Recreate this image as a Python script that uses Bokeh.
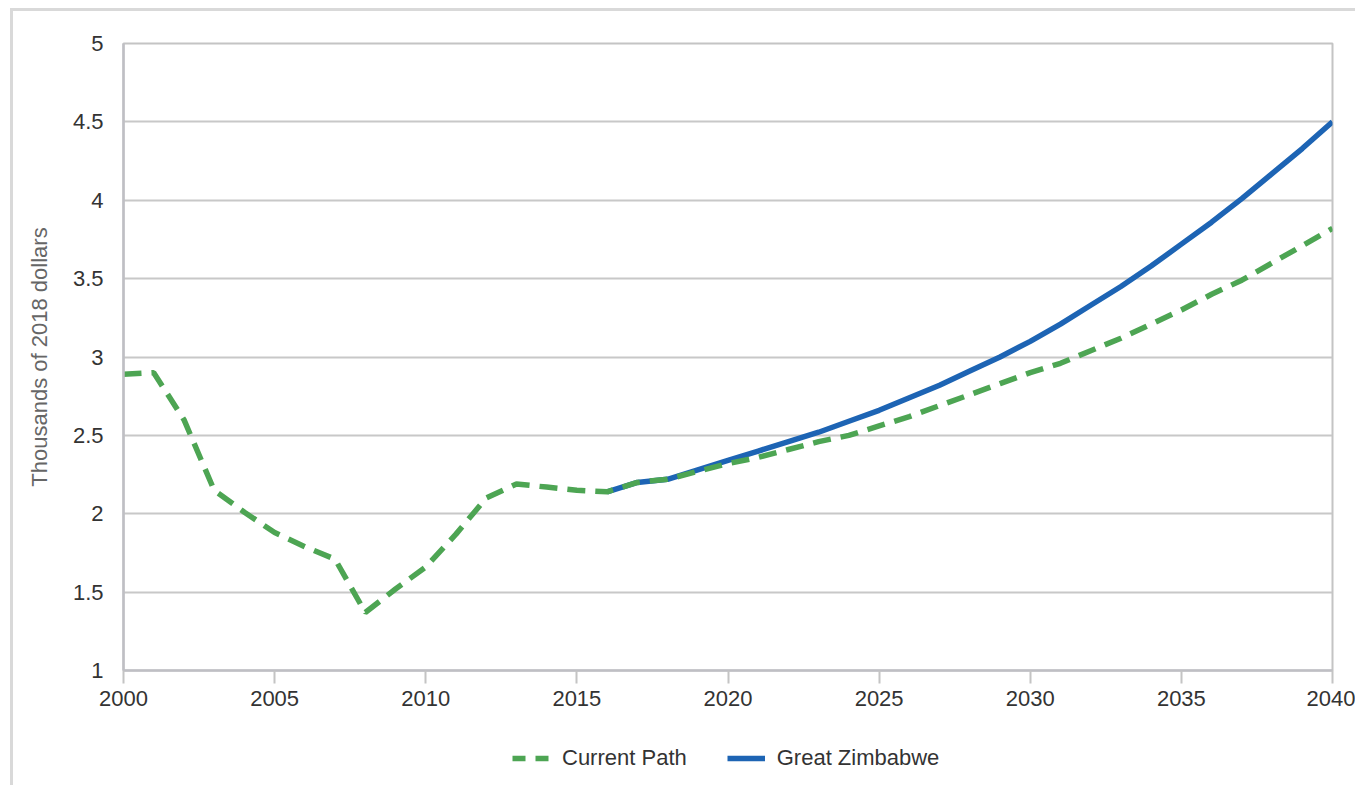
from bokeh.plotting import figure
from bokeh.layouts import column
from bokeh.models import FixedTicker, Legend, LegendItem, ColumnDataSource, Range1d
from bokeh.embed import file_html
from bokeh.resources import INLINE

# ---- data ----
years_cp = list(range(2000, 2041))
current_path = [2.89, 2.90, 2.60, 2.15, 2.01, 1.88, 1.79, 1.71, 1.37, 1.52,
                1.66, 1.87, 2.10, 2.19, 2.17, 2.15, 2.14, 2.20, 2.22, 2.27,
                2.32, 2.36, 2.41, 2.46, 2.50, 2.56, 2.62, 2.69, 2.76, 2.83,
                2.90, 2.96, 3.04, 3.12, 3.21, 3.30, 3.40, 3.49, 3.60, 3.71, 3.82]
years_gz = list(range(2016, 2041))
great_zimbabwe = [2.14, 2.20, 2.22, 2.28, 2.34, 2.40, 2.46, 2.52, 2.59, 2.66,
                  2.74, 2.82, 2.91, 3.00, 3.10, 3.21, 3.33, 3.45, 3.58, 3.72,
                  3.86, 4.01, 4.17, 4.33, 4.50]
x_ticks = [2000, 2005, 2010, 2015, 2020, 2025, 2030, 2035, 2040]
y_ticks = [1, 1.5, 2, 2.5, 3, 3.5, 4, 4.5, 5]
y_tick_labels = ["1", "1.5", "2", "2.5", "3", "3.5", "4", "4.5", "5"]
series_names = ["Current Path", "Great Zimbabwe"]
y_label = "Thousands of 2018 dollars"

GREEN = "#4da553"
BLUE = "#1d64b4"
FONT = "Liberation Sans"
TEXT = "#333333"

p = figure(width=1342, height=704, output_backend="svg", toolbar_location=None,
           x_range=Range1d(2000, 2040), y_range=Range1d(1, 5),
           min_border_left=110, min_border_right=23, min_border_top=32, min_border_bottom=45)

p.background_fill_color = "white"
p.border_fill_color = "white"
p.outline_line_color = "#c4c4c4"
p.outline_line_width = 2

# axes
p.xaxis.ticker = FixedTicker(ticks=x_ticks)
p.yaxis.ticker = FixedTicker(ticks=y_ticks)
p.yaxis.major_label_overrides = {t: l for t, l in zip(y_ticks, y_tick_labels)}
for ax in (p.xaxis, p.yaxis):
    ax.axis_line_color = "#bfbfc4"
    ax.axis_line_width = 2.5
    ax.major_label_text_font = FONT
    ax.major_label_text_font_size = "22px"
    ax.major_label_text_color = TEXT
    ax.minor_tick_line_color = None
p.xaxis.major_tick_line_color = "#c4c4c4"
p.xaxis.major_tick_line_width = 2
p.xaxis.major_tick_out = 13
p.xaxis.major_tick_in = 0
p.xaxis.major_label_standoff = 7
p.yaxis.major_tick_line_color = None
p.yaxis.major_label_standoff = 14
p.yaxis.axis_label = y_label
p.yaxis.axis_label_text_font = FONT
p.yaxis.axis_label_text_font_size = "22px"
p.yaxis.axis_label_text_font_style = "normal"
p.yaxis.axis_label_text_color = "#666666"
p.yaxis.axis_label_standoff = 18

p.xgrid.grid_line_color = None
p.ygrid.grid_line_color = "#c8c8c8"
p.ygrid.grid_line_width = 2

src_cp = ColumnDataSource(dict(x=years_cp, y=current_path))
src_gz = ColumnDataSource(dict(x=years_gz, y=great_zimbabwe))

r_gz = p.line("x", "y", source=src_gz, line_color=BLUE, line_width=5.5)
r_cp = p.line("x", "y", source=src_cp, line_color=GREEN, line_width=5.5, line_dash="18 10")

# legend strip: same series drawn in a strip whose y-range excludes them,
# so only the legend (below the x axis) is visible
lf = figure(width=1342, height=70, output_backend="svg", toolbar_location=None,
            x_range=p.x_range, y_range=Range1d(10, 11), x_axis_type=None, y_axis_type=None,
            min_border_left=110, min_border_right=23, min_border_top=0, min_border_bottom=0)
lf.outline_line_color = None
lf.xgrid.grid_line_color = None
lf.ygrid.grid_line_color = None
lf.background_fill_color = "white"
lf.border_fill_color = "white"
k_cp = lf.line("x", "y", source=src_cp, line_color=GREEN, line_width=5.5, line_dash="13 10")
k_gz = lf.line("x", "y", source=src_gz, line_color=BLUE, line_width=5.5)

legend = Legend(items=[LegendItem(label=series_names[0], renderers=[k_cp]),
                       LegendItem(label=series_names[1], renderers=[k_gz])],
                orientation="horizontal", location=(389, 14),
                padding=0, margin=0, spacing=40, glyph_width=38, glyph_height=20,
                label_standoff=12, border_line_color=None, background_fill_alpha=0,
                label_text_font=FONT, label_text_font_size="22px", label_text_color=TEXT)
lf.add_layout(legend)

layout = column(p, lf, spacing=0)
layout.styles = {"border-left": "3px solid #d9d9d9", "border-top": "3px solid #d9d9d9",
                 "margin-left": "10px", "margin-top": "8px"}

open("out.html", "w").write(file_html(layout, INLINE))
